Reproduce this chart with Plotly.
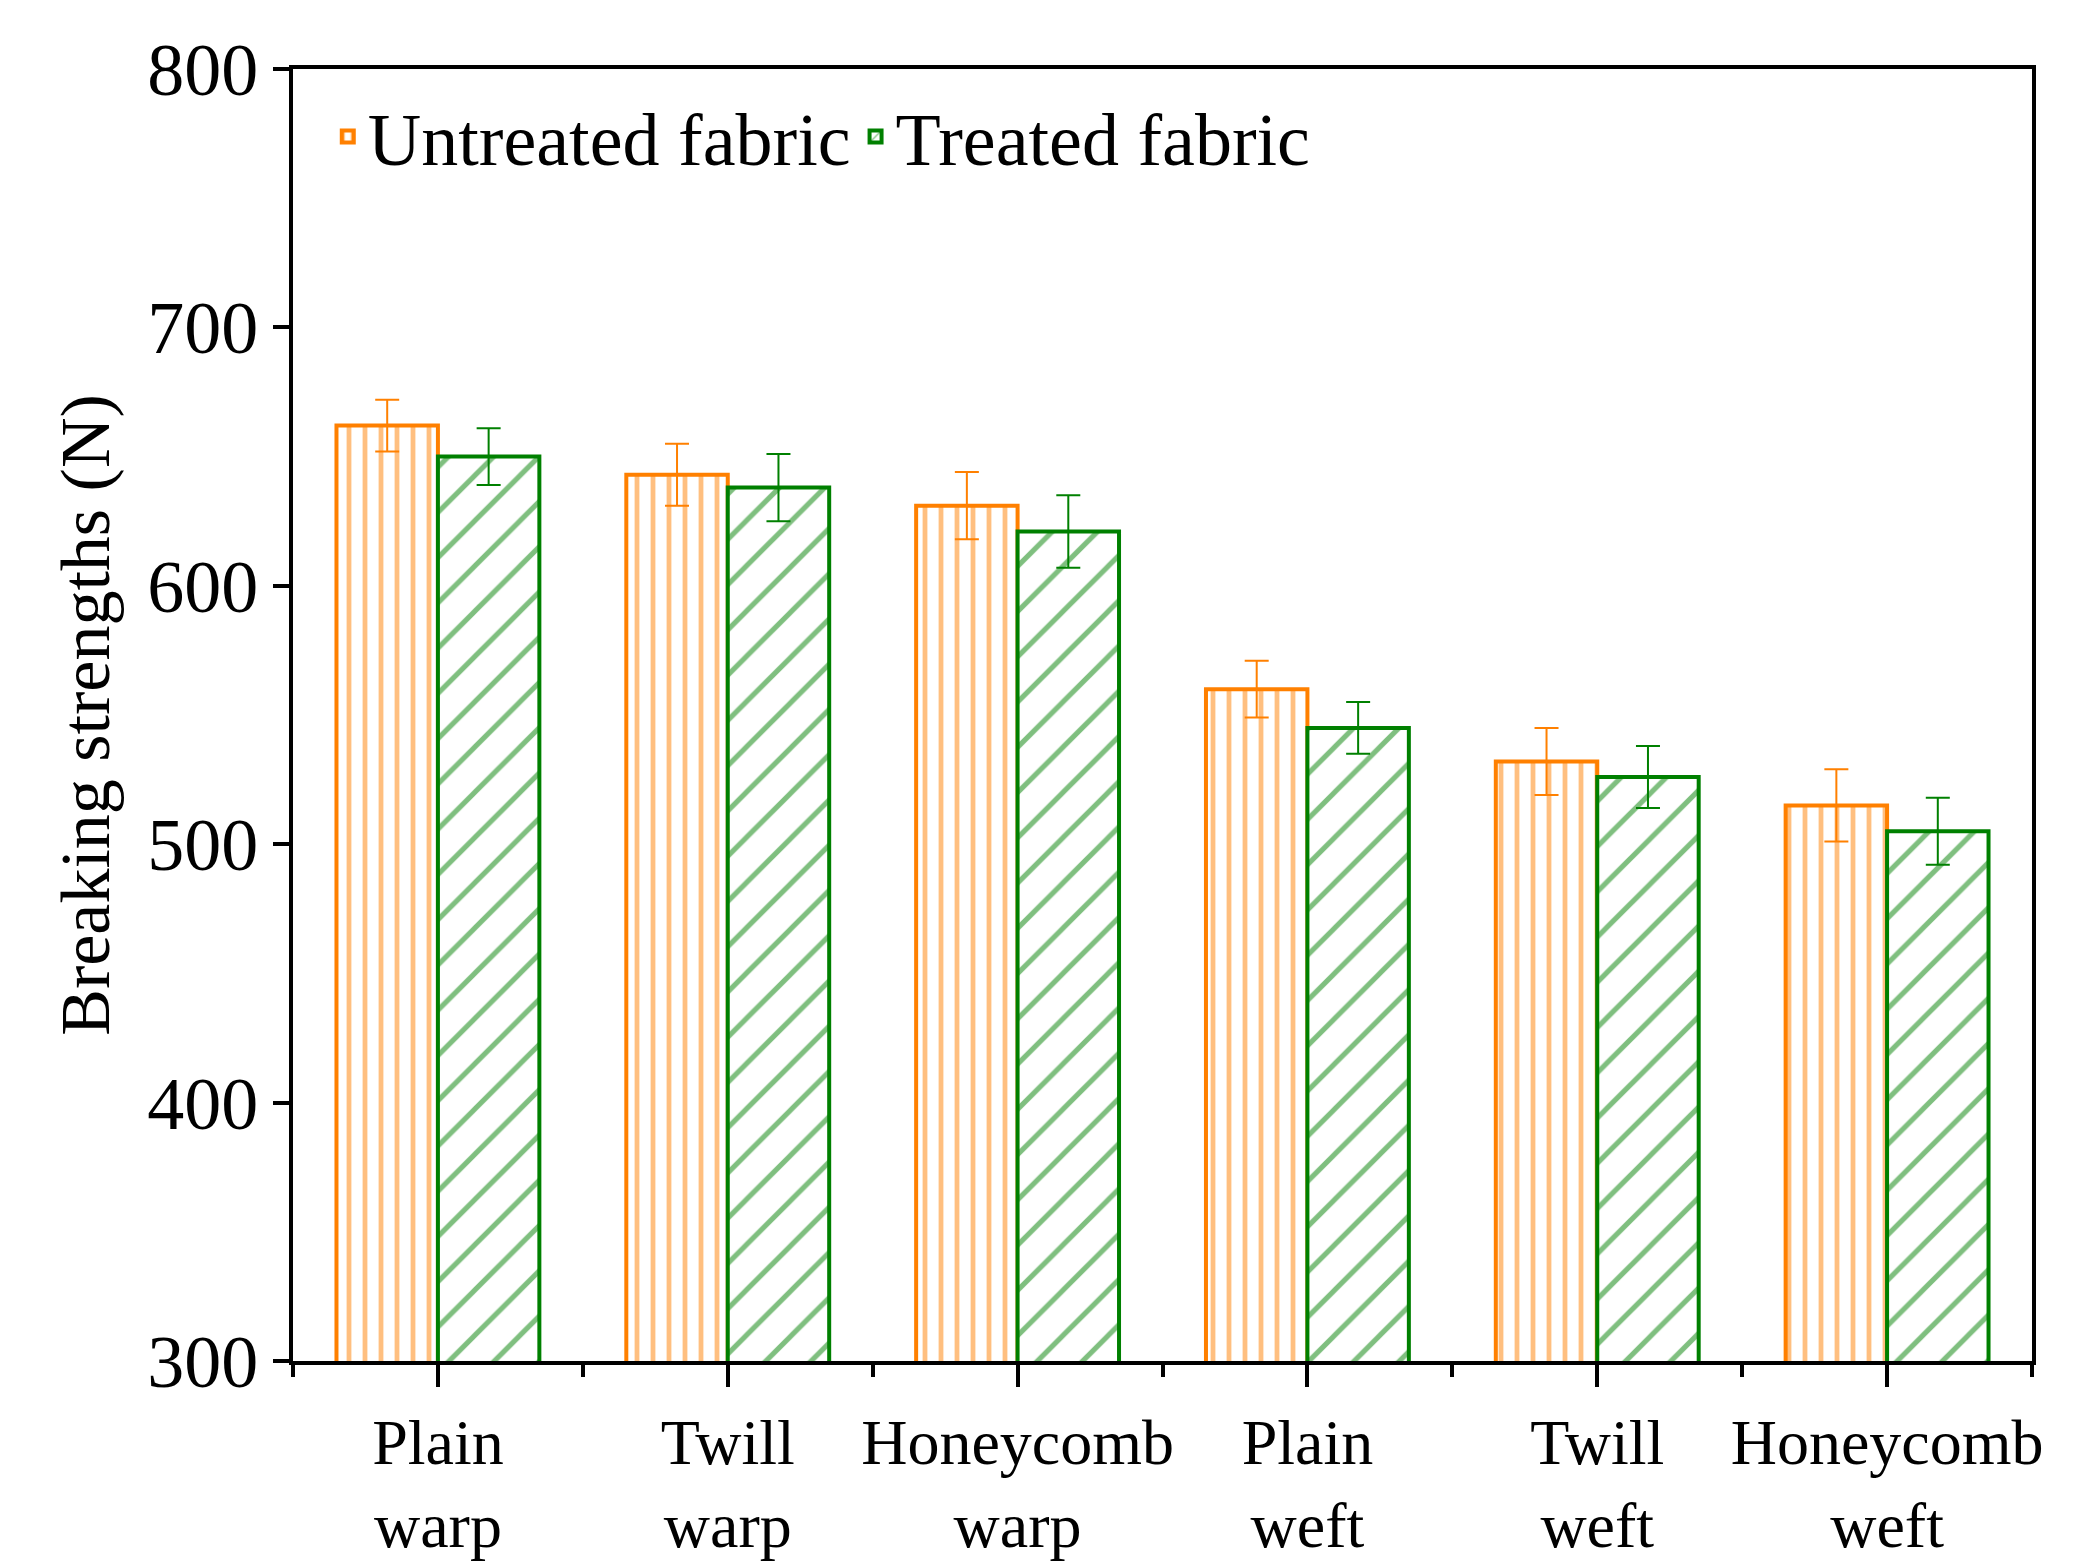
import plotly.graph_objects as go

categories = ["Plain<br>warp", "Twill<br>warp", "Honeycomb<br>warp", "Plain<br>weft", "Twill<br>weft", "Honeycomb<br>weft"]
untreated = [662, 643, 631, 560, 532, 515]
untreated_err = [10, 12, 13, 11, 13, 14]
treated = [650, 638, 621, 545, 526, 505]
treated_err = [11, 13, 14, 10, 12, 13]
yticks = [300, 400, 500, 600, 700, 800]

ORANGE = "#FF8000"
GREEN = "#008000"
xpos = list(range(len(categories)))

fig = go.Figure()
fig.add_bar(x=xpos, y=untreated, name="Untreated fabric",
            marker=dict(color="white", line=dict(color=ORANGE, width=4),
                        pattern=dict(shape="|", fgcolor=ORANGE, bgcolor="white", size=16, solidity=0.3)),
            error_y=dict(type="data", array=untreated_err, color=ORANGE, thickness=2, width=12))
fig.add_bar(x=xpos, y=treated, name="Treated fabric",
            marker=dict(color="white", line=dict(color=GREEN, width=4),
                        pattern=dict(shape="/", fgcolor=GREEN, bgcolor="white", size=32, solidity=0.16)),
            error_y=dict(type="data", array=treated_err, color=GREEN, thickness=2, width=12))

font = "Liberation Serif, Times New Roman, serif"
fig.update_layout(
    width=2091, height=1565, plot_bgcolor="white", paper_bgcolor="white",
    margin=dict(l=285, r=67, t=61, b=208),
    barmode="group", bargap=0.3, bargroupgap=0,
    font=dict(family=font, size=64, color="black"),
    legend=dict(orientation="h", x=0.02, y=0.99, xanchor="left", yanchor="top",
                font=dict(size=74), bgcolor="rgba(0,0,0,0)"),
    showlegend=True,
)
fig.update_xaxes(range=[-0.5, 5.5], tickmode="array", tickvals=xpos, ticktext=categories,
                 ticks="outside", ticklen=22, tickwidth=4, tickcolor="black",
                 showline=True, linewidth=4, linecolor="black", mirror=True, showgrid=False,
                 tickfont=dict(size=64),
                 minor=dict(tick0=-0.5, dtick=1, ticks="outside", ticklen=12, tickwidth=4, tickcolor="black", showgrid=False))
fig.update_yaxes(range=[300, 800], tickmode="array", tickvals=yticks,
                 ticks="outside", ticklen=16, tickwidth=4, tickcolor="black",
                 showline=True, linewidth=4, linecolor="black", mirror=True, showgrid=False,
                 zeroline=False, tickfont=dict(size=74),
                 title=dict(text="Breaking strengths (N)", font=dict(size=70), standoff=16))
fig.write_html("out.html")
